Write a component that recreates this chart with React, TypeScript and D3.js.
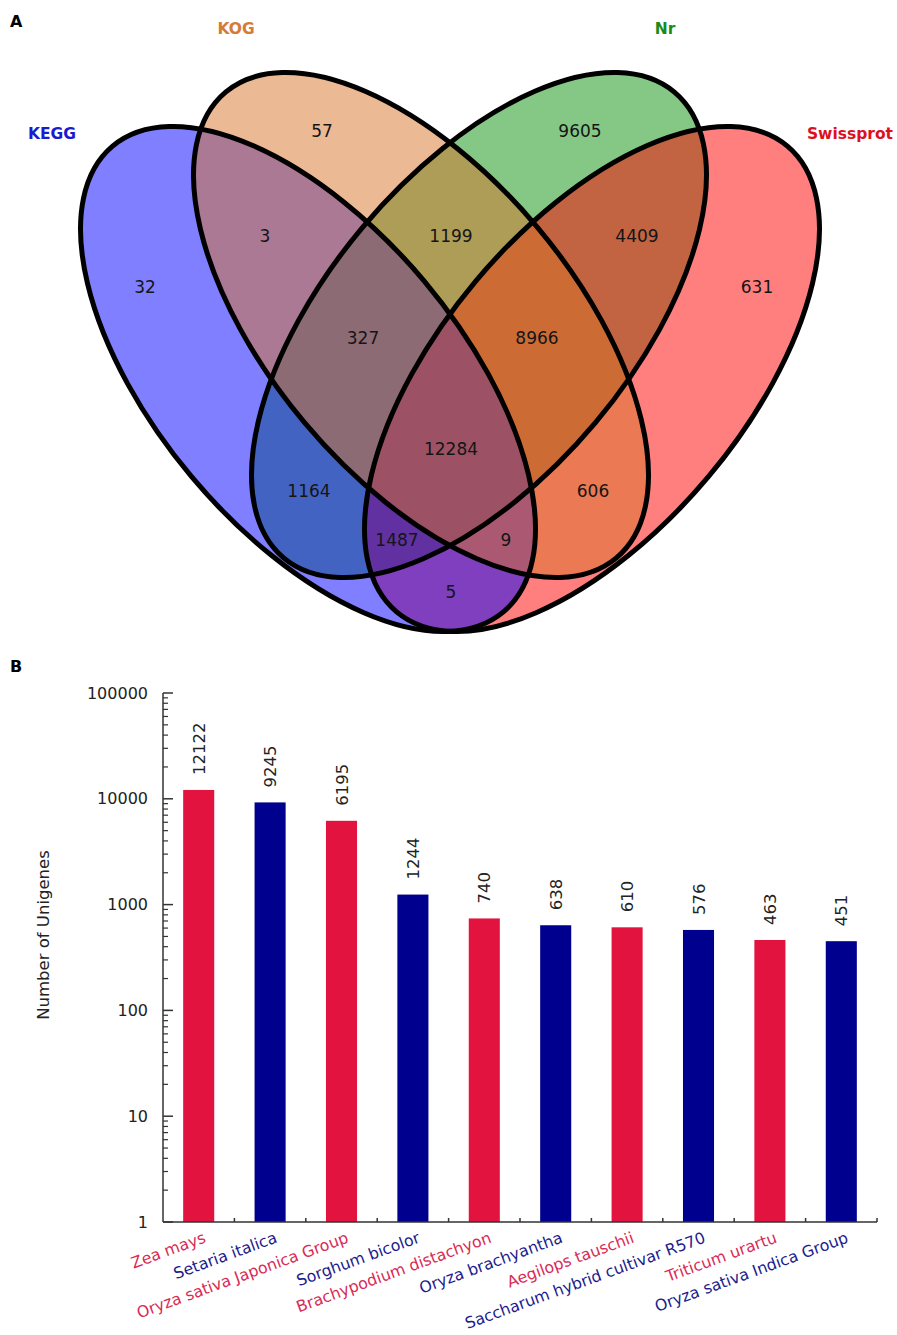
import React from "react";
import * as d3 from "d3";

// ---------- Panel A data ----------
const setNames = ["KEGG", "KOG", "Nr", "Swissprot"];
const setFill = ["#0000ff", "#d77327", "#0b8f0b", "#ff0000"];
const setLabelColor = ["#1a1ad0", "#d47c35", "#1a8a1a", "#dc1020"];
// region labels: which sets and count
const regionSets = ["KEGG", "KOG", "Nr", "Swissprot", "KEGG&KOG", "KOG&Nr", "Nr&Swissprot", "KEGG&KOG&Nr", "KOG&Nr&Swissprot", "ALL", "KEGG&Nr", "KOG&Swissprot", "KEGG&Nr&Swissprot", "KEGG&KOG&Swissprot", "KEGG&Swissprot"];
const regionCounts = [32, 57, 9605, 631, 3, 1199, 4409, 327, 8966, 12284, 1164, 606, 1487, 9, 5];

// ---------- Panel B data ----------
const species = [
  "Zea mays",
  "Setaria italica",
  "Oryza sativa Japonica Group",
  "Sorghum bicolor",
  "Brachypodium distachyon",
  "Oryza brachyantha",
  "Aegilops tauschii",
  "Saccharum hybrid cultivar R570",
  "Triticum urartu",
  "Oryza sativa Indica Group",
];
const unigenes = [12122, 9245, 6195, 1244, 740, 638, 610, 576, 463, 451];
const yTicks = [1, 10, 100, 1000, 10000, 100000];

// layout (positions only)
const ellipses = [
  { name: "KEGG", cx: 308, cy: 379, rot: 50 },
  { name: "KOG", cx: 421, cy: 325, rot: 50 },
  { name: "Nr", cx: 479, cy: 325, rot: -50 },
  { name: "Swissprot", cx: 592, cy: 379, rot: -50 },
];
const RX = 304, RY = 152;
const drawOrder = ["Nr", "Swissprot", "KEGG", "KOG"];
const setLabelPos: Record<string, [number, number, string]> = {
  KEGG: [28, 139, "start"],
  KOG: [236, 34, "middle"],
  Nr: [665, 34, "middle"],
  Swissprot: [893, 139, "end"],
};
const regionPos: Record<string, [number, number]> = {
  KEGG: [145, 287], KOG: [322, 131], Nr: [580, 131], Swissprot: [757, 287],
  "KEGG&KOG": [265, 236], "KOG&Nr": [451, 236], "Nr&Swissprot": [637, 236],
  "KEGG&KOG&Nr": [363, 338], "KOG&Nr&Swissprot": [537, 338], ALL: [451, 449],
  "KEGG&Nr": [309, 491], "KOG&Swissprot": [593, 491], "KEGG&Nr&Swissprot": [397, 540],
  "KEGG&KOG&Swissprot": [506, 540], "KEGG&Swissprot": [451, 592],
};

const FONT = "'DejaVu Sans', Verdana, sans-serif";

export default function App() {
  const x = d3.scaleBand<string>().domain(species).range([163, 877]).padding(0);
  const y = d3.scaleLog().domain([1, 100000]).range([1222, 693]);
  const bw = x.bandwidth() * 0.435;
  const barColors = ["#e2143f", "#00008f"];
  const labelColors = ["#d92a55", "#1c1c8c"];

  const minor: number[] = [];
  for (let e = 0; e < 5; e++) for (let k = 2; k <= 9; k++) minor.push(k * Math.pow(10, e));

  return (
    <div style={{ position: "absolute", left: 0, top: 0 }}>
      <svg width={897} height={1335} style={{ display: "block", background: "#fff" }} fontFamily={FONT}>
        {/* Panel A */}
        <text x={10} y={27} fontSize={16} fontWeight="bold" fill="#000">A</text>
        {drawOrder.map((n) => {
          const e = ellipses.find((d) => d.name === n)!;
          const i = setNames.indexOf(n);
          return (
            <ellipse key={"f" + n} cx={e.cx} cy={e.cy} rx={RX} ry={RY}
              transform={`rotate(${e.rot} ${e.cx} ${e.cy})`} fill={setFill[i]} fillOpacity={0.5} />
          );
        })}
        {ellipses.map((e) => (
          <ellipse key={"s" + e.name} cx={e.cx} cy={e.cy} rx={RX} ry={RY}
            transform={`rotate(${e.rot} ${e.cx} ${e.cy})`} fill="none" stroke="#000" strokeWidth={5} />
        ))}
        {setNames.map((n, i) => {
          const [lx, ly, anchor] = setLabelPos[n];
          return (
            <text key={"l" + n} x={lx} y={ly} fontSize={15.5} fontWeight="bold" fill={setLabelColor[i]} textAnchor={anchor as any}>{n}</text>
          );
        })}
        {regionSets.map((r, i) => {
          const [rx, ry] = regionPos[r];
          return (
            <text key={"r" + r} x={rx} y={ry} fontSize={17} fill="#151515" textAnchor="middle" dominantBaseline="central">
              {regionCounts[i]}
            </text>
          );
        })}

        {/* Panel B */}
        <text x={10} y={672} fontSize={16} fontWeight="bold" fill="#000">B</text>
        {species.map((s, i) => {
          const cx = x(s)! + x.bandwidth() / 2;
          const top = y(unigenes[i]);
          return (
            <g key={"b" + s}>
              <rect x={cx - bw / 2} y={top} width={bw} height={y(1) - top} fill={barColors[i % 2]} />
              <text transform={`translate(${cx + 6},${top - 15}) rotate(-90)`} fontSize={16.5} fill="#222">
                {unigenes[i]}
              </text>
              <text transform={`translate(${cx + 8},${1242}) rotate(-20)`} fontSize={15.8} fill={labelColors[i % 2]} textAnchor="end">
                {s}
              </text>
            </g>
          );
        })}
        {/* y axis */}
        <line x1={163} x2={163} y1={y(100000)} y2={y(1)} stroke="#333" strokeWidth={1.5} />
        {yTicks.map((t) => (
          <g key={"yt" + t}>
            <line x1={163} x2={173} y1={y(t)} y2={y(t)} stroke="#333" strokeWidth={1.5} />
            <text x={148} y={y(t)} fontSize={16} fill="#222" textAnchor="end" dominantBaseline="central">{t}</text>
          </g>
        ))}
        {minor.map((t) => (
          <line key={"m" + t} x1={163} x2={168} y1={y(t)} y2={y(t)} stroke="#333" strokeWidth={1.2} />
        ))}
        {/* x axis */}
        <line x1={163} x2={877} y1={y(1)} y2={y(1)} stroke="#333" strokeWidth={1.5} />
        {species.slice(1).map((s) => (
          <line key={"xt" + s} x1={x(s)!} x2={x(s)!} y1={y(1)} y2={y(1) - 4} stroke="#333" strokeWidth={1.5} />
        ))}
        <line x1={877} x2={877} y1={y(1)} y2={y(1) - 4} stroke="#333" strokeWidth={1.5} />
        <text transform={`translate(49,935) rotate(-90)`} fontSize={16.5} fill="#222" textAnchor="middle">Number of Unigenes</text>
      </svg>
    </div>
  );
}
